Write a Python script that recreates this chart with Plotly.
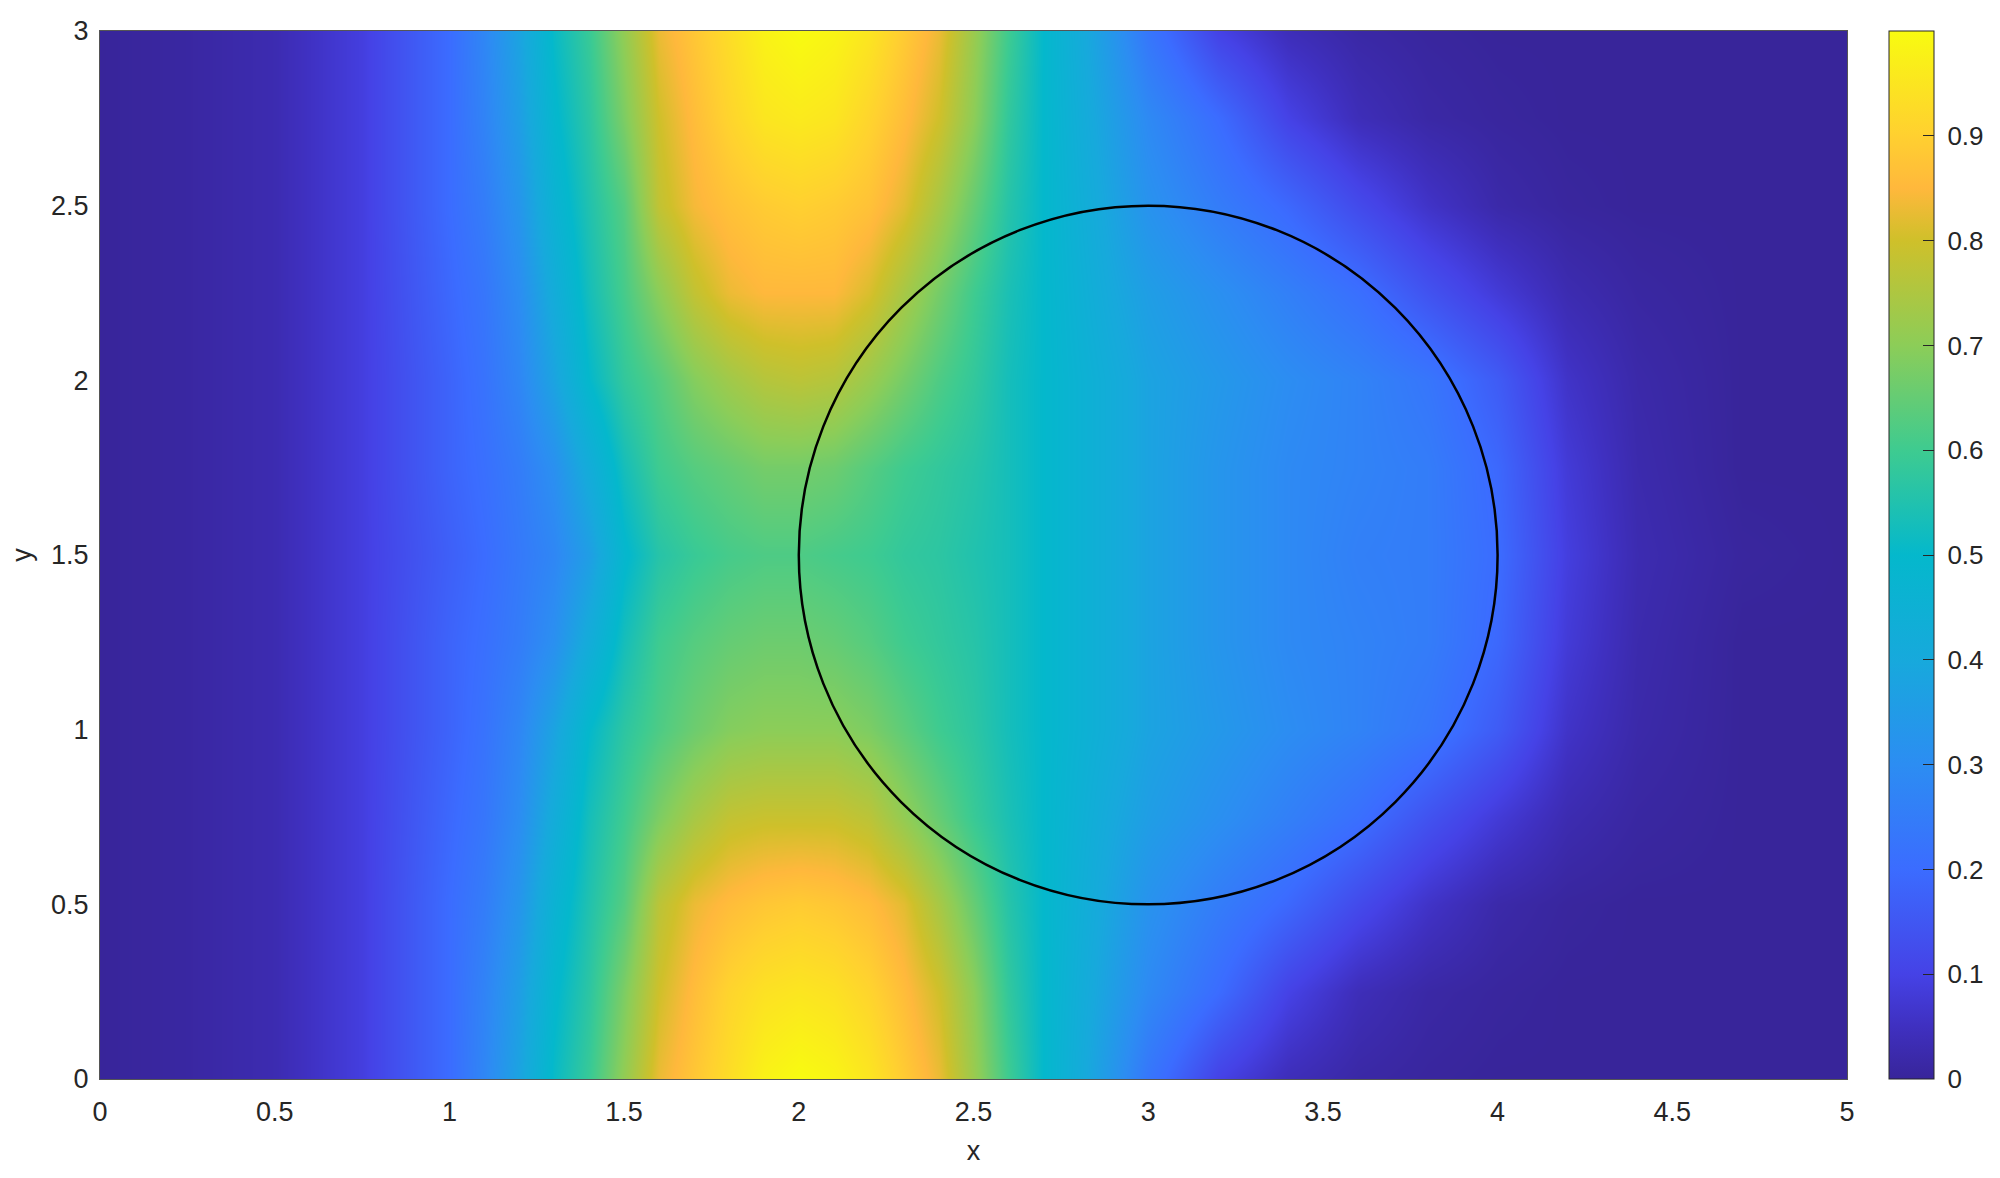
import plotly.graph_objects as go

x_vals = [0, 0.25, 0.5, 0.75, 1, 1.1, 1.2, 1.3, 1.4, 1.5, 1.6, 1.7, 1.8, 1.9, 2, 2.1, 2.2, 2.3, 2.4, 2.5,
          2.6, 2.7, 2.8, 2.9, 3, 3.2, 3.4, 3.6, 3.8, 4, 4.2, 4.4, 4.7, 5]
y_vals = [0, 0.25, 0.5, 0.75, 1, 1.25, 1.5, 1.75, 2, 2.25, 2.5, 2.75, 3]

row_y000 = [0, .01, .03, .09, .2, .28, .38, .51, .59, .71, .83, .88, .93, .98, 1, .985, .95, .89, .83, .72, .6, .5, .42, .33, .23, .1, .04, .015, .005, 0, 0, 0, 0, 0]
row_y025 = [0, .01, .03, .09, .2, .27, .36, .49, .57, .68, .8, .86, .91, .94, .95, .94, .91, .86, .8, .7, .58, .5, .43, .36, .29, .2, .1, .04, .015, .005, 0, 0, 0, 0]
row_y050 = [0, .01, .03, .09, .2, .25, .33, .46, .55, .63, .77, .83, .86, .88, .89, .88, .86, .82, .74, .65, .56, .5, .44, .38, .32, .25, .19, .12, .06, .02, .005, 0, 0, 0]
row_y075 = [0, .01, .03, .09, .19, .23, .3, .42, .53, .6, .68, .74, .78, .79, .79, .79, .77, .71, .65, .59, .54, .5, .45, .4, .36, .31, .26, .21, .14, .08, .03, .01, 0, 0]
row_y100 = [0, .01, .03, .09, .18, .22, .28, .38, .5, .57, .62, .66, .69, .7, .7, .7, .68, .64, .6, .57, .53, .5, .46, .42, .38, .34, .3, .27, .23, .16, .06, .02, 0, 0]
row_y125 = [0, .01, .03, .09, .18, .21, .25, .31, .42, .53, .6, .63, .65, .66, .66, .65, .63, .6, .58, .56, .53, .5, .46, .42, .38, .33, .29, .27, .25, .19, .08, .025, 0, 0]
row_y150 = [0, .01, .03, .09, .17, .2, .24, .28, .36, .49, .56, .59, .61, .62, .62, .61, .6, .58, .57, .55, .53, .5, .46, .42, .38, .33, .29, .26, .25, .2, .09, .03, .005, 0]
row_y175 = [0, .01, .03, .09, .18, .21, .25, .31, .42, .53, .6, .63, .65, .67, .67, .66, .63, .6, .58, .56, .53, .5, .46, .42, .38, .33, .29, .27, .25, .19, .08, .025, 0, 0]
row_y200 = [0, .01, .03, .09, .18, .22, .28, .38, .5, .58, .63, .69, .73, .76, .77, .76, .72, .67, .62, .58, .53, .5, .46, .42, .38, .34, .3, .27, .23, .16, .06, .02, 0, 0]
row_y225 = [0, .01, .03, .09, .19, .23, .3, .42, .53, .61, .7, .78, .83, .85, .85, .85, .81, .74, .67, .6, .54, .5, .45, .4, .36, .31, .26, .21, .14, .08, .03, .01, 0, 0]
row_y250 = [0, .01, .03, .09, .2, .25, .33, .46, .55, .63, .78, .84, .87, .89, .9, .89, .87, .82, .74, .65, .56, .5, .44, .38, .32, .25, .19, .12, .06, .02, .005, 0, 0, 0]
row_y275 = [0, .01, .03, .09, .2, .27, .36, .49, .57, .68, .8, .86, .91, .95, .96, .95, .91, .86, .8, .7, .58, .5, .43, .36, .29, .2, .1, .04, .015, .005, 0, 0, 0, 0]
row_y300 = [0, .01, .03, .09, .2, .28, .38, .51, .59, .71, .83, .88, .93, .98, 1, .985, .95, .89, .83, .72, .6, .5, .42, .33, .23, .1, .04, .015, .005, 0, 0, 0, 0, 0]

z_rows = [row_y000, row_y025, row_y050, row_y075, row_y100, row_y125, row_y150,
          row_y175, row_y200, row_y225, row_y250, row_y275, row_y300]

color_stops = [
    [0.0, '#38259a'], [0.05, '#3f30c0'], [0.1, '#4542e6'], [0.2, '#3b6cff'], [0.3, '#2c8df2'],
    [0.4, '#17a9dc'], [0.5, '#04b8cc'], [0.6, '#3ecb90'], [0.7, '#8ccd58'], [0.8, '#cfc02a'],
    [0.85, '#ffb83c'], [0.9, '#ffd030'], [1.0, '#f8fb10'],
]

x_ticks = [0, 0.5, 1, 1.5, 2, 2.5, 3, 3.5, 4, 4.5, 5]
x_tick_labels = ['0', '0.5', '1', '1.5', '2', '2.5', '3', '3.5', '4', '4.5', '5']
y_ticks = [0, 0.5, 1, 1.5, 2, 2.5, 3]
y_tick_labels = ['0', '0.5', '1', '1.5', '2', '2.5', '3']
cbar_ticks = [0, 0.1, 0.2, 0.3, 0.4, 0.5, 0.6, 0.7, 0.8, 0.9]
cbar_labels = ['\u00a00', '\u00a00.1', '\u00a00.2', '\u00a00.3', '\u00a00.4', '\u00a00.5', '\u00a00.6', '\u00a00.7', '\u00a00.8', '\u00a00.9']

circle_x = 3
circle_y = 1.5
circle_r = 1

FONT = 'Liberation Sans'
TEXT = '#262626'
HIDDEN = 'rgba(0,0,0,0)'

fig = go.Figure(go.Heatmap(
    x=x_vals,
    y=y_vals,
    z=z_rows,
    zmin=0,
    zmax=1,
    zsmooth='best',
    colorscale=color_stops,
    colorbar=dict(
        x=1.024,
        xanchor='left',
        xpad=0,
        ypad=0,
        y=0.5,
        len=1,
        thickness=45,
        outlinewidth=1,
        outlinecolor='#262626',
        ticks='inside',
        ticklen=11,
        tickcolor='#262626',
        tickvals=cbar_ticks,
        ticktext=cbar_labels,
        tickfont=dict(family=FONT, size=26, color=TEXT),
    ),
))

fig.add_shape(
    type='circle',
    xref='x',
    yref='y',
    x0=circle_x - circle_r,
    x1=circle_x + circle_r,
    y0=circle_y - circle_r,
    y1=circle_y + circle_r,
    line=dict(color='black', width=2.5),
)

fig.update_layout(
    width=2000,
    height=1178,
    margin=dict(l=100, r=153, t=31, b=99, autoexpand=False),
    paper_bgcolor='white',
    plot_bgcolor='white',
    font=dict(family=FONT, size=27, color=TEXT),
    xaxis=dict(
        range=[0, 5],
        tickvals=x_ticks,
        ticktext=x_tick_labels,
        ticks='outside',
        ticklen=9,
        tickcolor=HIDDEN,
        showgrid=False,
        zeroline=False,
        showline=True,
        mirror=True,
        linecolor='#555555',
        linewidth=1,
        title=dict(text='x', standoff=14, font=dict(family=FONT, size=27, color=TEXT)),
    ),
    yaxis=dict(
        range=[0, 3],
        tickvals=y_ticks,
        ticktext=y_tick_labels,
        ticks='outside',
        ticklen=5,
        tickcolor=HIDDEN,
        showgrid=False,
        zeroline=False,
        showline=True,
        mirror=True,
        linecolor='#555555',
        linewidth=1,
        title=dict(text='y', standoff=11, font=dict(family=FONT, size=27, color=TEXT)),
    ),
)

fig.write_html('out.html', config=dict(displayModeBar=False), post_script="document.body.style.margin='0';")
